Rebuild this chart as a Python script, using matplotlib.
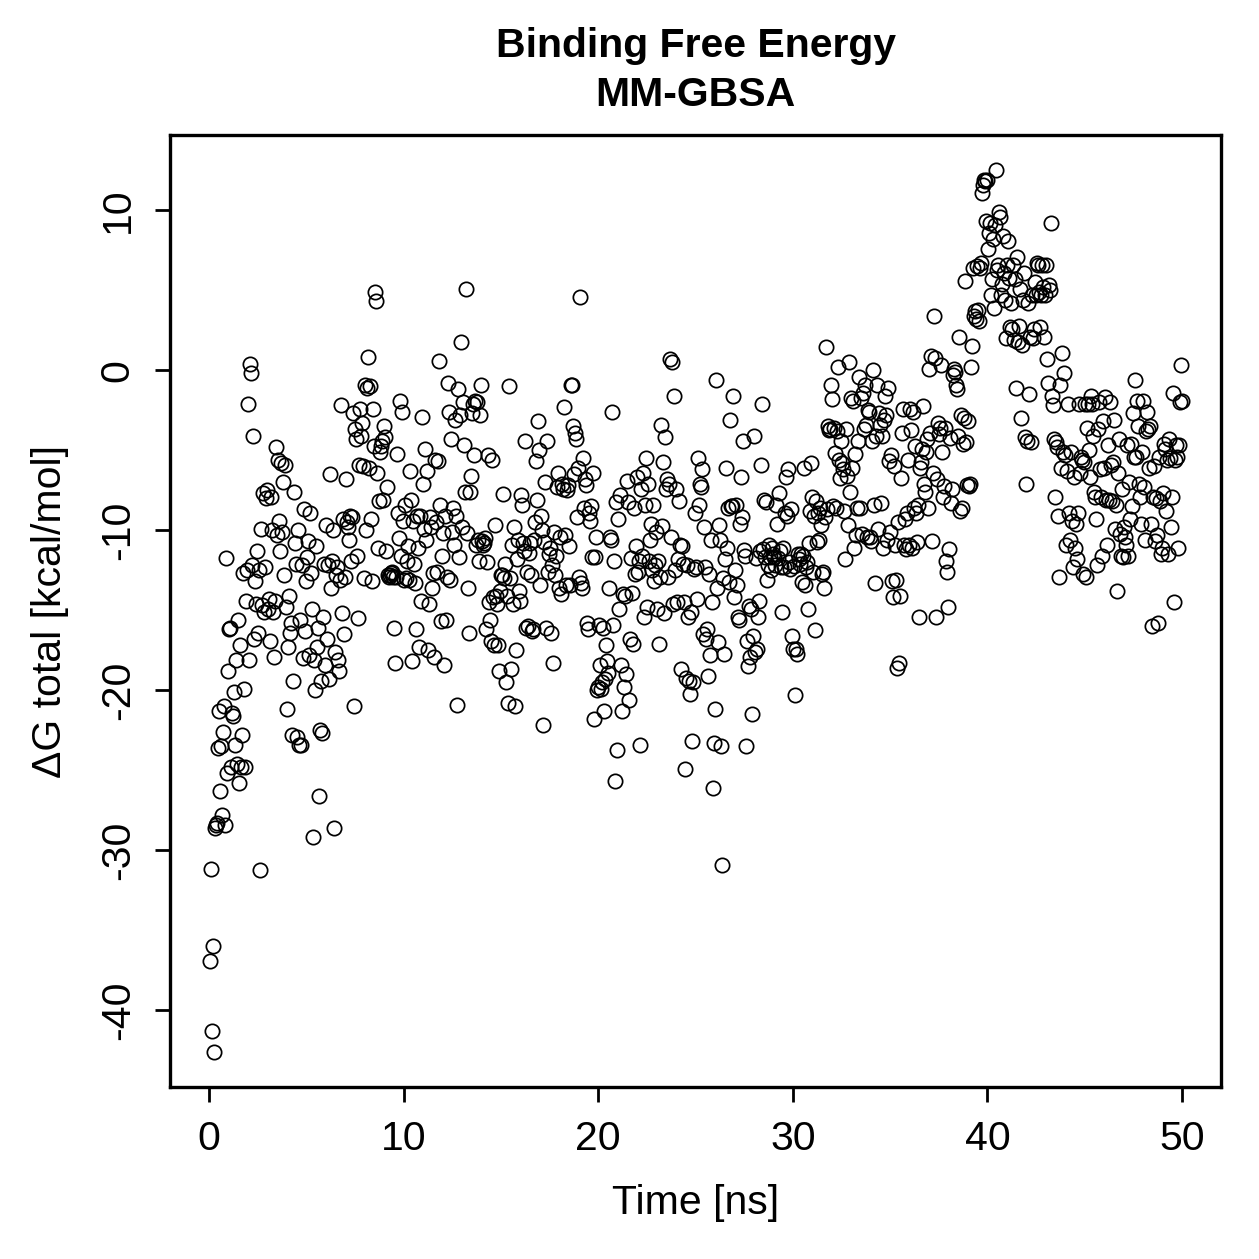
import numpy as np
import matplotlib
matplotlib.use("Agg")
import matplotlib.pyplot as plt

plt.rcParams['font.family'] = ['Liberation Sans', 'DejaVu Sans']

# Delta G total [kcal/mol] per frame in 2.5 ns blocks
dg_00 = [-36.9, -31.2, -41.3, -36.0, -42.6, -28.6, -28.4, -28.3, -23.6, -21.3, -26.3, -23.5,
         -27.8, -22.6, -21.0, -28.4, -11.75, -25.2, -18.8, -16.2, -16.1, -24.8, -21.4, -21.6,
         -20.1, -23.4, -18.1, -24.6, -15.6, -25.8, -17.2, -24.8, -22.8, -12.7, -19.9, -24.8,
         -14.4, -12.5, -2.1, -18.1, 0.4, -0.2, -12.2, -4.1, -16.8, -13.2]
dg_02 = [-14.6, -11.3, -16.4, -12.5, -31.25, -9.9, -14.7, -7.7, -15.1, -12.3, -8.0, -7.5,
         -14.9, -14.3, -16.9, -7.9, -10.0, -15.1, -17.9, -14.4, -4.8, -10.3, -5.6, -9.4,
         -11.3, -5.8, -10.1, -7.0, -12.8, -5.9, -14.8, -21.2, -17.3, -14.1, -16.4, -15.8,
         -22.8, -19.4, -7.6, -10.8, -12.1, -22.9, -10.0, -23.4, -15.6, -23.4, -12.2, -18.0]
dg_05 = [-8.7, -16.3, -13.2, -11.7, -10.7, -17.8, -8.9, -12.7, -14.9, -29.2, -18.1, -20.0,
         -11.0, -17.3, -16.1, -26.6, -22.5, -19.4, -22.7, -15.4, -12.1, -18.4, -9.7, -16.8,
         -12.2, -19.3, -6.5, -13.6, -11.9, -10.0, -28.6, -17.6, -12.8, -12.3, -18.1, -18.8,
         -13.1, -2.2, -15.2, -9.3, -16.5, -12.9, -6.8, -9.5, -9.8, -10.6, -9.1, -11.9, -9.2]
dg_07 = [-2.7, -21.0, -3.7, -4.3, -11.6, -15.5, -5.9, -2.4, -4.1, -3.3, -6.0, -13.0,
         -0.9, -10.0, -1.1, 0.8, -6.1, -1.0, -9.3, -13.2, -2.4, -4.75, 4.9, 4.3,
         -6.4, -11.1, -8.2, -5.1, -4.75, -4.4, -8.1, -3.5, -4.2, -11.3, -7.3, -12.8,
         -12.9, -12.8, -12.7, -12.6, -12.9, -16.1, -18.3, -12.9, -5.25, -8.9, -10.5, -1.9]
dg_10 = [-11.6, -2.6, -9.4, -13.1, -8.4, -13.0, -11.9, -11.0, -13.1, -6.3, -8.1, -18.2,
         -9.4, -12.1, -13.3, -16.2, -9.1, -11.1, -17.3, -9.1, -14.4, -2.9, -7.1, -9.9,
         -4.9, -10.6, -6.3, -17.5, -14.6, -9.2, -9.8, -13.6, -12.7, -17.9, -5.6, -9.5,
         -12.6, -5.7, 0.6, -8.4, -15.7, -11.6, -10.2, -18.4, -9.1, -15.6, -12.9, -0.8, -2.6]
dg_12 = [-13.1, -4.3, -10.1, -8.6, -10.9, -3.1, -9.1, -20.9, -1.2, -11.7, -2.8, 1.75,
         -9.8, -2.0, -4.7, -7.6, 5.1, -10.2, -13.6, -16.4, -7.6, -6.6, -2.7, -2.1,
         -5.3, -1.9, -10.9, -2.0, -10.6, -11.9, -2.8, -0.9, -10.7, -10.9, -10.8, -10.5,
         -16.2, -12.0, -5.3, -14.5, -15.6, -16.9, -5.6, -14.2, -17.2, -9.7, -14.1, -14.6, -17.2]
dg_15 = [-18.8, -13.8, -12.8, -12.8, -7.75, -13.0, -12.1, -19.5, -14.1, -20.8, -1.0, -13.0,
         -18.7, -10.9, -14.6, -9.8, -21.0, -17.5, -11.8, -10.6, -13.8, -14.4, -7.8, -8.4,
         -10.8, -11.3, -4.4, -16.1, -12.6, -16.0, -11.4, -10.8, -12.8, -16.3, -16.2, -10.6,
         -9.5, -5.7, -8.1, -3.2, -5.0, -13.4, -9.1, -10.0, -22.2, -10.75, -7.0, -16.1, -4.4]
dg_17 = [-12.6, -11.5, -11.1, -16.4, -12.2, -18.3, -10.1, -12.8, -11.6, -7.3, -6.4, -13.6,
         -10.4, -14.0, -7.1, -7.4, -2.3, -10.3, -13.4, -7.5, -7.2, -11.0, -13.4, -0.9,
         -0.9, -3.5, -6.5, -3.9, -4.3, -9.2, -6.1, -12.9, 4.6, -13.3, -13.6, -5.5,
         -8.6, -6.8, -7.2, -15.8, -16.2, -8.9, -9.4, -8.5, -11.7, -6.4, -21.8, -11.7, -10.4]
dg_20 = [-20.0, -19.8, -15.9, -18.4, -19.9, -19.5, -16.1, -21.3, -19.3, -17.2, -18.2, -18.9,
         -13.6, -10.4, -10.6, -2.6, -15.9, -11.9, -25.7, -8.25, -23.75, -9.3, -14.9, -7.8,
         -18.4, -21.3, -14.0, -19.8, -14.1, -19.0, -6.9, -8.25, -20.6, -16.8, -11.75, -13.9,
         -17.1, -8.6, -12.75, -11.0, -6.7, -12.6, -11.9, -23.4, -7.4, -11.6, -6.4, -15.4, -8.4]
dg_22 = [-5.5, -14.8, -7.1, -11.9, -10.6, -9.6, -12.5, -8.4, -13.2, -12.2, -10.1, -14.9,
         -11.9, -17.1, -12.9, -3.4, -9.75, -5.75, -15.2, -4.2, -7.4, -6.8, -12.9, -7.1,
         0.7, -10.4, 0.5, -14.6, -1.6, -12.5, -7.4, -14.5, -11.8, -8.2, -10.9, -18.7,
         -11.0, -12.1, -14.5, -24.9, -19.25, -12.2, -15.4, -19.4, -20.25, -15.1, -23.2, -19.5, -12.4]
dg_25 = [-8.9, -12.3, -14.3, -5.5, -8.4, -7.1, -7.3, -6.2, -16.5, -9.8, -12.3, -16.8,
         -16.2, -19.1, -12.75, -17.8, -10.6, -14.5, -26.1, -23.3, -21.2, -0.6, -13.6, -17.0,
         -9.7, -10.6, -23.5, -30.9, -13.0, -17.75, -11.8, -6.1, -11.1, -8.6, -13.25, -3.1,
         -8.5, -8.5, -1.6, -14.2, -12.5, -8.4, -13.4, -15.4, -15.6, -9.6, -6.7, -9.2, -4.4]
dg_27 = [-11.25, -11.6, -23.5, -16.9, -18.5, -14.75, -17.9, -14.9, -21.5, -16.6, -4.1, -17.6,
         -11.75, -17.4, -15.4, -14.4, -11.3, -5.9, -2.1, -11.2, -8.1, -11.7, -8.25, -13.1,
         -12.2, -10.9, -11.7, -12.5, -11.1, -11.5, -11.7, -12.2, -8.4, -9.6, -11.75, -7.7,
         -11.3, -12.3, -15.1, -11.1, -12.3, -8.9, -6.7, -9.1, -6.2, -12.0, -12.4, -8.7]
dg_30 = [-16.6, -17.4, -12.25, -20.3, -17.4, -17.75, -11.5, -11.8, -12.1, -11.5, -13.25, -11.6,
         -6.1, -13.4, -12.3, -12.0, -14.9, -10.8, -8.8, -5.8, -7.9, -12.6, -9.1, -16.25,
         -8.2, -10.75, -8.9, -10.6, -8.6, -9.7, -12.75, -12.6, -13.6, -9.2, 1.45, -8.7,
         -3.5, -3.75, -3.7, -0.9, -1.8, -8.5, -3.6, -5.2, -8.6, -3.8, 0.2, -5.6, -6.75]
dg_32 = [-4.4, -5.8, -6.2, -8.8, -11.8, -3.7, -6.6, -9.7, 0.5, -7.6, -1.75, -6.1,
         -1.9, -11.1, -5.25, -10.3, -8.6, -4.4, -0.4, -8.6, -1.75, -10.25, -1.4, -3.7,
         -0.9, -3.4, -10.4, -2.5, -2.6, -10.4, -10.7, -4.4, 0.0, -8.4, -13.3, -4.1,
         -0.9, -9.9, -2.7, -3.4, -8.3, -4.1, -11.1, -3.1, -1.6, -2.8, -10.6, -1.1, -5.7]
dg_35 = [-10.1, -5.3, -13.2, -14.2, -6.0, -10.9, -13.1, -18.6, -9.5, -18.3, -14.1, -6.75,
         -3.9, -2.4, -10.9, -9.3, -11.2, -8.9, -5.6, -10.9, -2.4, -3.75, -11.1, -2.6,
         -8.6, -4.75, -8.9, -10.75, -8.4, -15.4, -6.1, -5.75, -4.9, -2.25, -7.1, -7.6,
         -5.1, -4.3, -8.6, 0.1, -3.9, 0.9, -10.7, -6.4, 3.4, 0.75, -15.4, -6.8, -3.3]
dg_37 = [-4.0, -3.6, 0.3, -5.1, -7.9, -7.25, -3.6, -11.9, -12.6, -14.8, -11.2, -4.25,
         -8.3, -7.4, -0.3, 0.1, -0.1, -0.9, -1.2, -4.1, 2.1, -8.8, -2.8, -8.6,
         -4.6, -3.0, 5.6, -4.5, -7.2, -3.2, -7.25, -7.1, 0.2, 1.5, 6.4, 3.4,
         3.7, 3.2, 6.5, 3.75, 3.1, 6.4, 6.7, 11.1, 11.6, 11.9, 11.8, 9.3, 11.9]
dg_40 = [7.6, 8.6, 9.2, 4.7, 5.7, 8.2, 3.9, 9.1, 12.5, 6.25, 6.6, 9.9,
         9.6, 4.7, 5.4, 8.4, 6.1, 4.4, 2.0, 6.6, 8.1, 5.75, 2.7, 4.2,
         2.6, 6.6, 1.9, 5.7, -1.1, 7.1, 1.75, 2.75, 5.1, -3.0, 1.6, 4.4,
         6.1, -4.2, -7.1, -4.4, 4.2, -1.5, 2.1, -4.5, 4.7, 2.0, 2.6, 5.5, 4.7]
dg_42 = [6.7, 6.6, 4.9, 2.7, 4.7, 6.6, 5.2, 2.1, 4.7, 6.6, 0.7, -0.8,
         5.3, 5.0, 9.2, -1.6, -2.2, -4.3, -7.9, -4.5, -4.8, -9.1, -12.9, -0.9,
         -6.1, 1.1, -5.1, -0.2, -5.3, -10.9, -6.3, -2.1, -8.9, -10.6, -5.1, -9.4,
         -12.3, -6.7, -11.1, -9.6, -11.8, -8.9, -2.1, -6.4, -5.4, -5.6, -12.75, -5.75, -2.1]
dg_45 = [-12.9, -3.6, -2.1, -5.0, -6.7, -1.6, -2.1, -4.1, -7.6, -7.9, -9.3, -12.2,
         -3.7, -2.0, -6.2, -7.9, -11.6, -3.2, -6.1, -1.7, -8.1, -10.9, -4.7, -8.1,
         -2.0, -5.9, -8.2, -5.75, -3.1, -9.9, -8.4, -13.8, -6.4, -4.3, -10.25, -11.6,
         -7.4, -11.7, -9.8, -10.4, -10.9, -4.7, -11.6, -7.0, -9.3, -4.6, -8.5, -2.7, -5.4]
dg_47 = [-0.6, -5.4, -1.9, -3.5, -7.1, -7.9, -9.6, -5.1, -1.9, -7.3, -10.6, -3.8,
         -2.6, -3.7, -6.1, -3.5, -9.6, -16.0, -7.9, -6.0, -10.7, -8.0, -10.3, -15.8,
         -5.4, -8.2, -11.5, -11.1, -7.7, -4.6, -4.9, -8.8, -5.6, -11.5, -4.3, -5.5,
         -9.8, -7.9, -1.4, -14.5, -5.6, -4.7, -5.4, -11.1, -4.7, -2.0, 0.3, -1.9]

dG = np.concatenate([dg_00, dg_02, dg_05, dg_07, dg_10, dg_12, dg_15, dg_17, dg_20, dg_22,
                     dg_25, dg_27, dg_30, dg_32, dg_35, dg_37, dg_40, dg_42, dg_45, dg_47])
# frames are evenly spaced over the 50 ns run
time_ns = np.linspace(0.05, 50, len(dG))

x_ticks = [0, 10, 20, 30, 40, 50]
y_ticks = [-40, -30, -20, -10, 0, 10]

W = 1259
fig = plt.figure(figsize=(W / 100, W / 100), dpi=100)
ax = fig.add_axes([170 / W, 1 - 1087 / W, 1051 / W, 952 / W])

ax.plot(time_ns, dG, ls='none', marker='o', ms=10.3, mfc='none', mec='black', mew=1.25)

ax.set_xlim(-2, 52)
ax.set_ylim(-44.8, 14.7)

ax.set_xticks(x_ticks)
ax.set_xticklabels([str(v) for v in x_ticks])
ax.set_yticks(y_ticks)
ax.set_yticklabels([str(v) for v in y_ticks])
for lab in ax.get_yticklabels():
    lab.set_rotation(90)
    lab.set_va('center')

ax.tick_params(axis='both', direction='out', length=11, width=2.0, labelsize=29.5, pad=13)
for sp in ax.spines.values():
    sp.set_linewidth(2.4)

ax.set_xlabel('Time [ns]', fontsize=29.5, va='center')
ax.xaxis.set_label_coords(0.5, (1087 - 1203) / 952)
ax.set_ylabel('\u0394G total [kcal/mol]', fontsize=29.5, va='center')
ax.yaxis.set_label_coords((50 - 170) / 1051, 0.5)

fig.text(695.5 / W, 1 - 46 / W, 'Binding Free Energy', fontsize=29.5, fontweight='bold',
         ha='center', va='center')
fig.text(695.5 / W, 1 - 95 / W, 'MM-GBSA', fontsize=29.5, fontweight='bold',
         ha='center', va='center')

fig.savefig('out.png', dpi=100)
